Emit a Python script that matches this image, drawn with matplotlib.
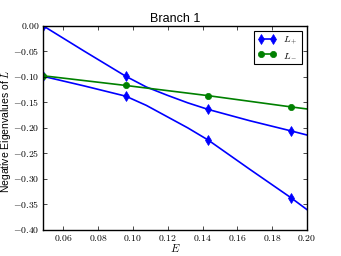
import numpy as np
import matplotlib
matplotlib.use('Agg')
import matplotlib.pyplot as plt
from matplotlib.ticker import FuncFormatter

E = [0.0483, 0.0721, 0.0959, 0.1077, 0.1196, 0.1315, 0.1433, 0.1671, 0.1909, 0.2]
# two branches of L+ (they nearly cross near E = 0.11)
l_plus_a = [0.0, -0.050, -0.099, -0.120, -0.136, -0.151, -0.164, -0.186, -0.206, -0.214]
l_plus_b = [-0.099, -0.118, -0.138, -0.156, -0.178, -0.200, -0.224, -0.281, -0.337, -0.360]
l_minus = [-0.098, -0.1075, -0.117, -0.122, -0.127, -0.132, -0.137, -0.148, -0.159, -0.163]
mark_idx = [0, 2, 6, 8]
err = 0.005

plt.style.use('classic')
plt.rcParams['mathtext.fontset'] = 'cm'
plt.rcParams['font.family'] = ['Liberation Sans', 'DejaVu Sans']

fig = plt.figure(figsize=(3.41, 2.56), dpi=100)
ax = fig.add_axes([0.126, 0.1016, 0.774, 0.798])

def draw_branch(vals, color, marker, label=None, errs=False):
    line, = ax.plot(E, vals, color=color, lw=1.2, marker=marker, markevery=mark_idx,
                    ms=4.5 if marker == 'o' else 5, mec=color, mfc=color, label=label)
    if errs:
        xs = [E[i] for i in mark_idx]
        ys = [vals[i] for i in mark_idx]
        ax.errorbar(xs, ys, yerr=err, fmt='none', ecolor=color, elinewidth=1.0, capsize=0)
    return line

draw_branch(l_plus_a, 'b', 'd', label=r'$L_+$', errs=True)
draw_branch(l_plus_b, 'b', 'd', errs=True)
draw_branch(l_minus, 'g', 'o', label=r'$L_-$')

ax.set_xlim(0.0483, 0.2)
ax.set_ylim(-0.4, 0.0)
ax.set_xticks(np.arange(0.06, 0.201, 0.02))
ax.set_yticks(np.arange(-0.4, 0.001, 0.05))
fmt = FuncFormatter(lambda v, p: r'$%.2f$' % v if abs(v) > 1e-9 else r'$0.00$')
ax.xaxis.set_major_formatter(fmt)
ax.yaxis.set_major_formatter(fmt)
ax.tick_params(labelsize=7, length=3, pad=2.5)

ax.set_title('Branch 1', fontsize=9, pad=3)
ax.set_xlabel(r'$E$', fontsize=8, labelpad=-1)
ax.set_ylabel(r'Negative Eigenvalues of $L$', fontsize=7.5)
ax.yaxis.set_label_coords(-0.112, 0.485)

leg = ax.legend(loc='upper right', fontsize=7, numpoints=2, handlelength=1.8,
                borderaxespad=0.5, labelspacing=0.3, borderpad=0.4)
leg.get_frame().set_linewidth(0.8)

fig.savefig('out.png', dpi=100, facecolor='white')
